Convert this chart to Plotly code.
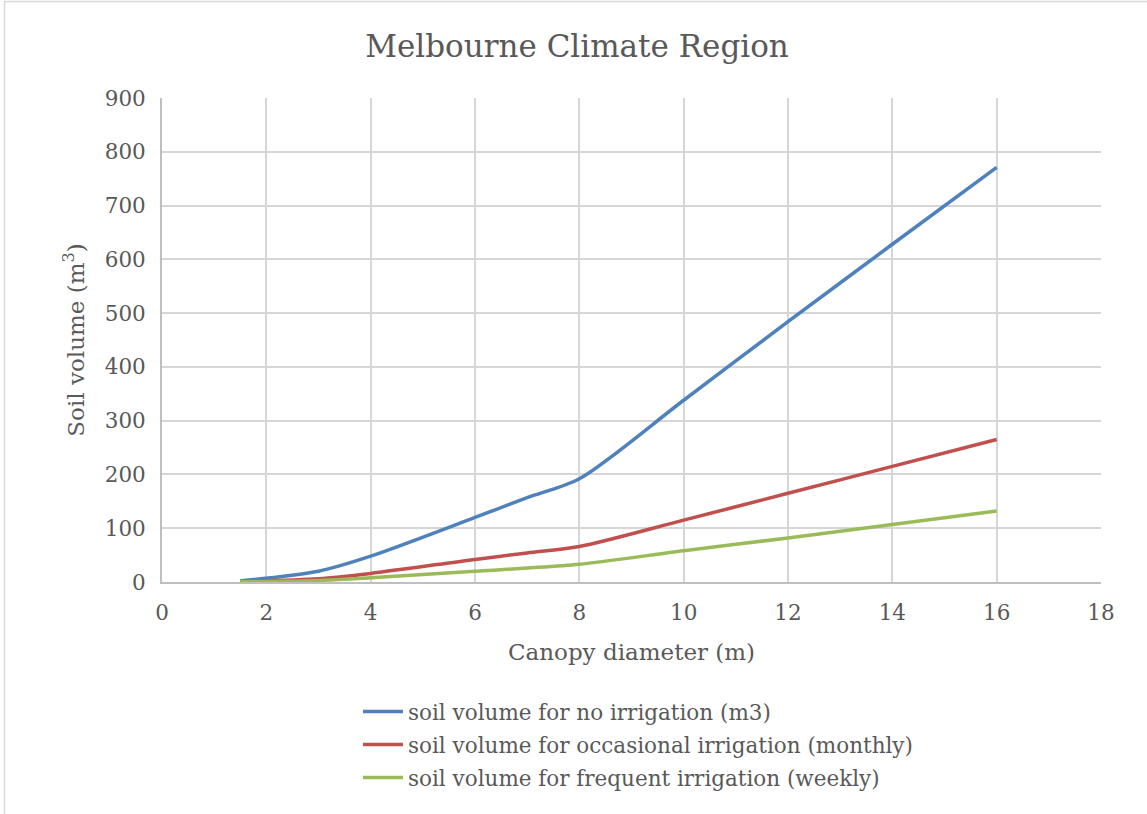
import plotly.graph_objects as go

# Canopy diameter (m) and required soil volume (m3) for each irrigation regime
canopy_diameter = [1.5, 3, 4, 6, 7, 8, 10, 12, 14, 16]
no_irrigation = [2, 20, 48, 120, 157, 192, 338, 484, 628, 771]
occasional_irrigation = [1, 6, 16, 42, 54, 66, 115, 165, 215, 265]
frequent_irrigation = [0.5, 3, 8, 20, 26, 33, 58, 82, 107, 132]

series_names = [
    "soil volume for no irrigation (m3)",
    "soil volume for occasional irrigation (monthly)",
    "soil volume for frequent irrigation (weekly)",
]
series_values = [no_irrigation, occasional_irrigation, frequent_irrigation]
series_colors = ["#4F81BD", "#C0504D", "#9BBB59"]

x_ticks = list(range(0, 19, 2))
y_ticks = list(range(0, 901, 100))

FONT = "DejaVu Serif"
TEXT = "#595959"

fig = go.Figure()
for i, (name, vals, col) in enumerate(zip(series_names, series_values, series_colors)):
    fig.add_trace(go.Scatter(
        x=canopy_diameter, y=vals, name=name, mode="lines",
        legendgroup=f"g{i}",
        line=dict(color=col, width=3.5, shape="spline", smoothing=0.8),
    ))

W, H = 1147, 814
L, R, T, B = 162, 46, 98, 232
pw, ph = W - L - R, H - T - B

def px_x(p):
    return (p - L) / pw

def px_y(p):
    return (H - B - p) / ph

fig.update_layout(
    width=W, height=H,
    margin=dict(l=L, r=R, t=T, b=B),
    paper_bgcolor="white", plot_bgcolor="white",
    font=dict(family=FONT, color=TEXT, size=21),
    title=dict(text="Melbourne Climate Region", x=px_x(577), xref="paper",
               xanchor="center", y=1 - 46 / H, yanchor="middle",
               font=dict(family=FONT, size=31, color=TEXT)),
    xaxis=dict(range=[0, 18], tickvals=x_ticks, ticktext=[str(v) for v in x_ticks],
               showgrid=True, gridcolor="#d6d6d6", gridwidth=1.6,
               showline=True, linecolor="#bfbfbf", linewidth=1.8,
               zeroline=False, ticks="", ticklabelstandoff=10,
               tickfont=dict(family=FONT, size=21.5, color=TEXT),
               title=dict(text="Canopy diameter (m)", standoff=20,
                          font=dict(family=FONT, size=23, color=TEXT))),
    yaxis=dict(range=[0, 900], tickvals=y_ticks, ticktext=[str(v) for v in y_ticks],
               showgrid=True, gridcolor="#d6d6d6", gridwidth=1.6,
               showline=True, linecolor="#bfbfbf", linewidth=1.8,
               zeroline=False, ticks="", ticklabelstandoff=10,
               tickfont=dict(family=FONT, size=21.5, color=TEXT),
               title=dict(text="Soil volume (m<sup>3</sup>)", standoff=14,
                          font=dict(family=FONT, size=23, color=TEXT))),
    legend=dict(x=px_x(638), xanchor="center", y=px_y(691), yanchor="top",
                orientation="v", traceorder="grouped", tracegroupgap=2,
                font=dict(family=FONT, size=21.5, color=TEXT),
                bgcolor="rgba(0,0,0,0)", itemwidth=40),
    showlegend=True,
    shapes=[dict(type="rect", xref="paper", yref="paper",
                 x0=px_x(4.5), x1=px_x(1160), y0=px_y(830), y1=px_y(1.5),
                 line=dict(color="#d9d9d9", width=1.5), fillcolor="rgba(0,0,0,0)",
                 layer="below")],
)

fig.write_html("out.html")
